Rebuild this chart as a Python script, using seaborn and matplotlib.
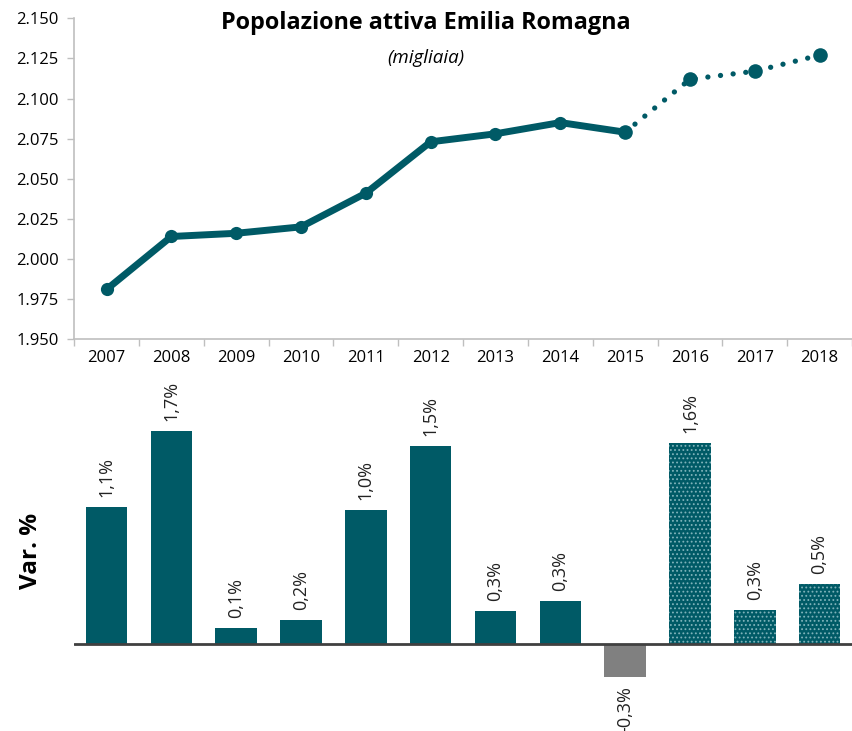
import numpy as np
import pandas as pd
import matplotlib
matplotlib.use('Agg')
import matplotlib.pyplot as plt
from matplotlib.ticker import FuncFormatter, FixedLocator
import seaborn as sns

years = ['2007', '2008', '2009', '2010', '2011', '2012', '2013', '2014', '2015', '2016', '2017', '2018']
popolazione = [1981, 2014, 2016, 2020, 2041, 2073, 2078, 2085, 2079, 2112, 2117, 2127]
var_pct = [1.09, 1.70, 0.13, 0.19, 1.07, 1.58, 0.26, 0.34, -0.26, 1.60, 0.27, 0.48]
var_labels = ['1,1%', '1,7%', '0,1%', '0,2%', '1,0%', '1,5%', '0,3%', '0,3%', '-0,3%', '1,6%', '0,3%', '0,5%']
first_forecast = 9  # 2016 onwards dotted

teal = '#005A66'
grey = '#808080'

sns.set_theme(style='white')
plt.rcParams['font.family'] = ['Open Sans', 'DejaVu Sans']
plt.rcParams['hatch.linewidth'] = 0.8

fig = plt.figure(figsize=(8.52, 7.31), dpi=100)
ax1 = fig.add_axes([0.087, 0.536, 0.913, 0.439])
ax2 = fig.add_axes([0.087, 0.015, 0.913, 0.445])

x = np.arange(len(years))
df = pd.DataFrame({'x': x, 'pop': popolazione})
solid = df.iloc[:first_forecast]
dotted = df.iloc[first_forecast - 1:]

sns.lineplot(data=solid, x='x', y='pop', ax=ax1, color=teal, linewidth=5,
             marker='o', markersize=9.5, markeredgewidth=0, solid_capstyle='round')
sns.lineplot(data=dotted, x='x', y='pop', ax=ax1, color=teal, linewidth=3.8,
             linestyle=(0, (0.01, 2.4)), dash_capstyle='round')
ax1.plot(dotted['x'], dotted['pop'], 'o', color=teal, markersize=10.5, markeredgewidth=0)

ax1.set_xlim(-0.5, len(years) - 0.5)
ax1.set_ylim(1950, 2150)
ax1.set_yticks(np.arange(1950, 2151, 25))
ax1.yaxis.set_major_formatter(FuncFormatter(lambda v, p: f'{v/1000:.3f}'))
ax1.set_xticks(x)
ax1.set_xticklabels(years)
ax1.xaxis.set_minor_locator(FixedLocator(np.arange(-0.5, len(years), 1)))
ax1.tick_params(axis='x', which='major', length=0, labelsize=12, pad=8, colors='black')
ax1.tick_params(axis='x', which='minor', length=5, width=1, color='#BFBFBF', bottom=True)
ax1.tick_params(axis='y', length=5, width=1, color='#BFBFBF', labelsize=12, left=True, pad=6,
                labelcolor='black')
ax1.set_xlabel('')
ax1.set_ylabel('')
for s in ['top', 'right']:
    ax1.spines[s].set_visible(False)
for s in ['left', 'bottom']:
    ax1.spines[s].set_color('#BFBFBF')
    ax1.spines[s].set_linewidth(1.2)

fig.text(0.5, 0.968, 'Popolazione attiva Emilia Romagna', ha='center', va='center',
         fontsize=16.8, fontweight='bold', color='black')
fig.text(0.5, 0.921, '(migliaia)', ha='center', va='center', fontsize=13.5, style='italic',
         color='black')

colors = [grey if v < 0 else teal for v in var_pct]
bdf = pd.DataFrame({'year': years, 'var': var_pct})
sns.barplot(data=bdf, x='year', y='var', hue='year', palette=colors, legend=False,
            ax=ax2, width=0.64, saturation=1, edgecolor='none')
for i, patch in enumerate(ax2.patches):
    if i >= first_forecast:
        patch.set_hatch('....')
        patch.set_edgecolor('#7FB3BA')
        patch.set_linewidth(0)

for i, (v, lab) in enumerate(zip(var_pct, var_labels)):
    if v >= 0:
        ax2.text(i, v + 0.08, lab, rotation=90, ha='center', va='bottom', fontsize=13, color='#222222')
    else:
        ax2.text(i, v - 0.08, lab, rotation=90, ha='center', va='top', fontsize=13, color='#222222')

ax2.axhline(0, color='#404040', linewidth=2)
ax2.set_xlim(-0.5, len(years) - 0.5)
ax2.set_ylim(-0.607, 1.987)
ax2.set_xticks([])
ax2.set_yticks([])
ax2.set_xlabel('')
ax2.set_ylabel('')
for s in ax2.spines.values():
    s.set_visible(False)
fig.text(0.036, 0.246, 'Var. %', rotation=90, ha='center', va='center', fontsize=17.5,
         fontweight='bold', color='black')

fig.savefig('out.png', dpi=100)
